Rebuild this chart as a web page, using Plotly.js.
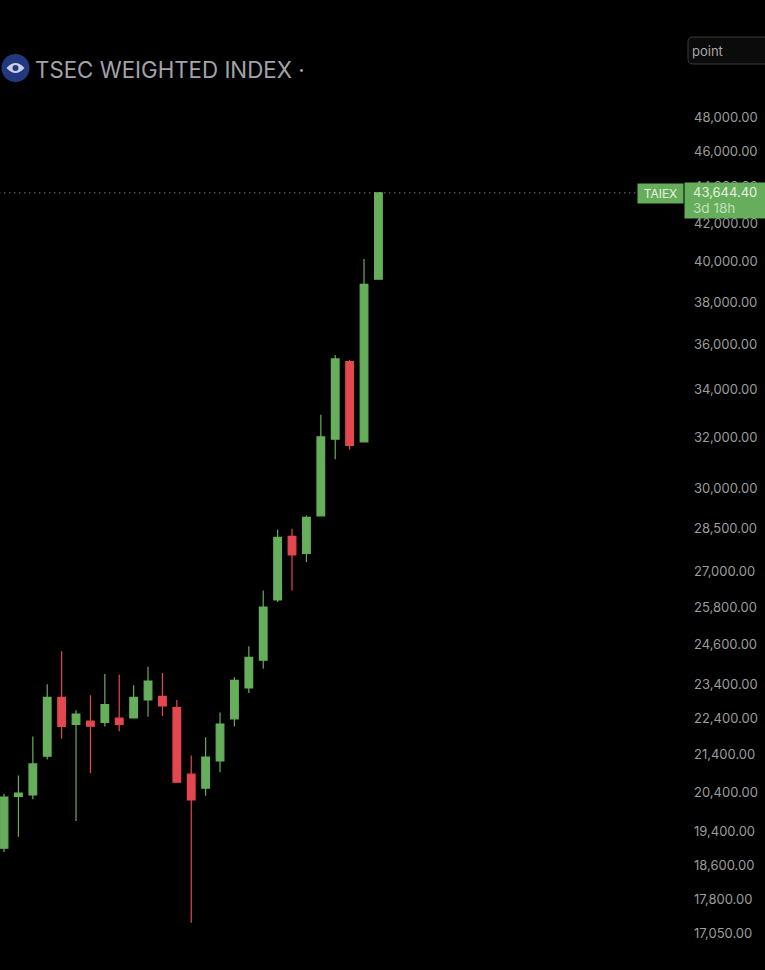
<!DOCTYPE html>
<html>
<head>
<meta charset="utf-8">
<script src="https://cdn.plot.ly/plotly-3.0.1.min.js"></script>
<style>html,body{margin:0;padding:0;background:#000;overflow:hidden}#chart{width:765px;height:970px}</style>
</head>
<body>
<div id="chart"></div>
<script>
var periods = [0,1,2,3,4,5,6,7,8,9,10,11,12,13,14,15,16,17,18,19,20,21,22,23,24,25,26];
var openValues = [19003,20294,20330,21356,23010,22234,22327,22290,22412,22420,22934,23040,22716,20875,20508,21230,22392,23287,24121,26037,28226,27620,28970,31930,35230,31825,39120];
var highValues = [20361,20843,21900,23397,24397,22639,23071,23703,23685,23367,23923,23733,22936,21375,21874,22573,23605,24552,26356,28476,28500,28980,32941,35530,35307,40132,43644.4];
var lowValues = [18914,19281,20224,21266,21832,19668,20901,22177,22045,22420,22449,22477,20665,17287,20309,20925,22177,23140,23865,25971,26356,27319,28970,31123,31503,31825,39120];
var closeValues = [20276,20379,21148,23010,22177,22525,22185,22801,22234,23010,23495,22762,20665,20205,21330,22242,23516,24213,25807,28190,27574,28920,32026,35352,31675,38856,43644.4];
var tickValues = [48000,46000,44000,42000,40000,38000,36000,34000,32000,30000,28500,27000,25800,24600,23400,22400,21400,20400,19400,18600,17800,17050];
var tickLabels = ["48,000.00","46,000.00","44,000.00","42,000.00","40,000.00","38,000.00","36,000.00","34,000.00","32,000.00","30,000.00","28,500.00","27,000.00","25,800.00","24,600.00","23,400.00","22,400.00","21,400.00","20,400.00","19,400.00","18,600.00","17,800.00","17,050.00"];
var symbolName = "TAIEX";
var chartTitle = "TSEC WEIGHTED INDEX ·";
var lastPrice = 43644.40;
var lastPriceLabel = "43,644.40";
var countdown = "3d 18h";

var GREEN = "#66ae5b", RED = "#e4474f";
var W = 765, H = 970, PLOT_W = 685;
function px(x){ return x / PLOT_W; }
function py(y){ return 1 - y / H; }
var FONT = "Inter, 'Liberation Sans', sans-serif";

var candles = {
  type: "candlestick", x: periods, open: openValues, high: highValues, low: lowValues, close: closeValues,
  whiskerwidth: 0, hoverinfo: "skip",
  increasing: {line: {color: GREEN, width: 1.2}, fillcolor: GREEN},
  decreasing: {line: {color: RED, width: 1.2}, fillcolor: RED}
};
var priceLine = {
  type: "scatter", mode: "lines", x: [-0.33, 43.9], y: [lastPrice, lastPrice],
  line: {color: "#a9b8a6", width: 1, dash: "1px,4px"}, hoverinfo: "skip"
};

function rr(x0,y0,x1,y1,r){
  var a=px(x0),b=px(x1),t=py(y0),u=py(y1),rx=px(r),ry=r/H;
  return "M"+(a+rx)+","+t+" L"+(b-rx)+","+t+" Q"+b+","+t+" "+b+","+(t-ry)+" L"+b+","+(u+ry)+" Q"+b+","+u+" "+(b-rx)+","+u+" L"+(a+rx)+","+u+" Q"+a+","+u+" "+a+","+(u+ry)+" L"+a+","+(t-ry)+" Q"+a+","+t+" "+(a+rx)+","+t+" Z";
}
function eye(cx,cy,w,h){
  return "M"+px(cx-w)+","+py(cy)+" Q"+px(cx)+","+py(cy-h)+" "+px(cx+w)+","+py(cy)+" Q"+px(cx)+","+py(cy+h)+" "+px(cx-w)+","+py(cy)+" Z";
}

var layout = {
  width: W, height: H, margin: {l: 0, r: W - PLOT_W, t: 0, b: 0},
  paper_bgcolor: "#000", plot_bgcolor: "#000", showlegend: false, hovermode: false, boxgap: 0.24,
  font: {family: FONT},
  xaxis: {type: "linear", range: [-0.28, 47.29], visible: false, fixedrange: true, rangeslider: {visible: false}},
  yaxis: {
    type: "log", side: "right", range: [4.21172, 4.7462], fixedrange: true,
    showgrid: false, zeroline: false, showline: false, ticks: "", ticklabelstandoff: 8,
    tickmode: "array", tickvals: tickValues, ticktext: tickLabels,
    tickfont: {family: FONT, size: 13, color: "#9c9c9c"}
  },
  shapes: [
    {type:"circle", xref:"paper", yref:"paper", x0:px(1.5), x1:px(29.5), y0:py(82), y1:py(54), fillcolor:"#22397f", line:{width:0}},
    {type:"path", xref:"paper", yref:"paper", path:eye(15.5,68,9,10), fillcolor:"#c9d0e4", line:{width:0}},
    {type:"circle", xref:"paper", yref:"paper", x0:px(12.5), x1:px(18.5), y0:py(71), y1:py(65), fillcolor:"#22397f", line:{width:0}},
    {type:"path", xref:"paper", yref:"paper", path:rr(688,37,772,64,5), fillcolor:"#0b0b0b", line:{color:"#3a3a3a", width:1}}
  ],
  annotations: [
    {xref:"paper", yref:"paper", x:px(33), y:py(69.5), xanchor:"left", yanchor:"middle", showarrow:false, text:chartTitle, font:{family:FONT, size:22.3, color:"#a3a3aa"}},
    {xref:"paper", yref:"paper", x:px(690), y:py(50.5), xanchor:"left", yanchor:"middle", showarrow:false, text:"point", font:{family:FONT, size:13, color:"#a8a8a8"}},
    {xref:"paper", yref:"paper", x:px(637), y:py(193.5), xanchor:"left", yanchor:"middle", showarrow:false, width:45, height:19, borderpad:0, bgcolor:GREEN, align:"center", text:symbolName, font:{family:FONT, size:12, color:"#e6f2e3"}},
    {xref:"paper", yref:"paper", x:px(684), y:py(200.5), xanchor:"left", yanchor:"middle", showarrow:false, width:81, height:35, borderpad:0, bgcolor:GREEN, text:" ", font:{family:FONT, size:13}},
    {xref:"paper", yref:"paper", x:px(691), y:py(192.5), xanchor:"left", yanchor:"middle", showarrow:false, text:lastPriceLabel, font:{family:FONT, size:13, color:"#e6f2e3"}},
    {xref:"paper", yref:"paper", x:px(691), y:py(208), xanchor:"left", yanchor:"middle", showarrow:false, text:countdown, font:{family:FONT, size:13.5, color:"#c3dfbd"}}
  ]
};
Plotly.newPlot("chart", [candles, priceLine], layout, {staticPlot: true, displayModeBar: false});
</script>
</body>
</html>
